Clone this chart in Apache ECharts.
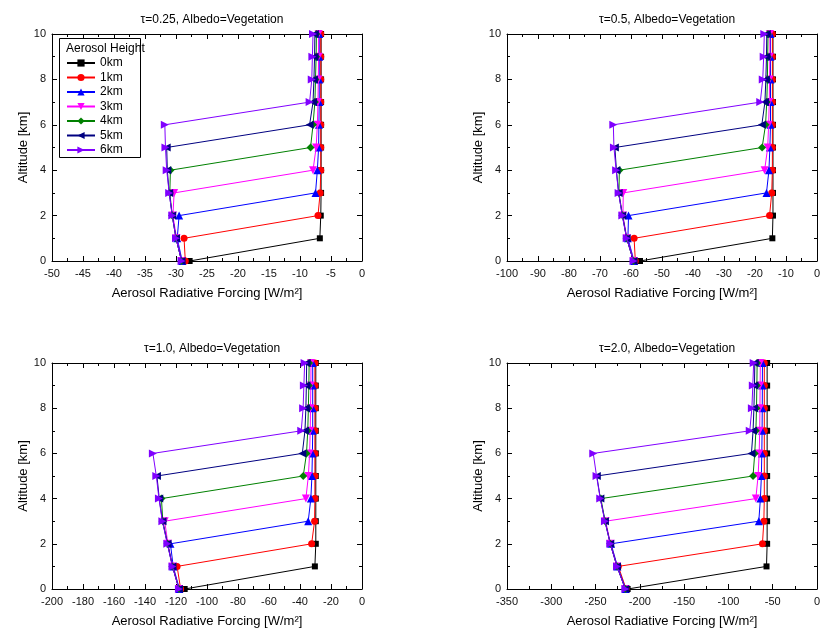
<!DOCTYPE html>
<html>
<head>
<meta charset="utf-8">
<script src="https://cdn.jsdelivr.net/npm/echarts@6/dist/echarts.min.js"></script>
<style>
html,body{margin:0;padding:0;background:#fff;}
#chart{width:827px;height:637px;}
</style>
</head>
<body>
<div id="chart"></div>
<script>
// ---------- data ----------
const altitudes = [0, 1, 2, 3, 4, 5, 6, 7, 8, 9, 10];
const heightNames = ['0km', '1km', '2km', '3km', '4km', '5km', '6km'];
const panelTitles = ['τ=0.25, Albedo=Vegetation', 'τ=0.5, Albedo=Vegetation', 'τ=1.0, Albedo=Vegetation', 'τ=2.0, Albedo=Vegetation'];
const xMins = [-50, -100, -200, -350];
const xIntervals = [5, 10, 20, 50];

// tau = 0.25 (forcing at altitudes 0..10 km)
const tau025_h0 = [-27.8, -6.8, -6.65, -6.6, -6.6, -6.6, -6.6, -6.6, -6.6, -6.6, -6.6];
const tau025_h1 = [-28.5, -28.7, -7.1, -6.75, -6.65, -6.65, -6.65, -6.65, -6.65, -6.65, -6.65];
const tau025_h2 = [-29.0, -29.8, -29.5, -7.5, -7.2, -7.0, -6.95, -6.9, -6.9, -6.9, -6.9];
const tau025_h3 = [-29.1, -29.9, -30.5, -30.3, -7.9, -7.4, -7.2, -7.1, -7.05, -7.0, -7.0];
const tau025_h4 = [-29.1, -30.0, -30.6, -31.0, -30.9, -8.3, -7.9, -7.6, -7.5, -7.4, -7.35];
const tau025_h5 = [-29.1, -30.0, -30.6, -31.1, -31.4, -31.5, -8.45, -7.9, -7.75, -7.65, -7.6];
const tau025_h6 = [-29.1, -30.0, -30.6, -31.1, -31.5, -31.7, -31.8, -8.45, -8.1, -8.0, -7.9];

// tau = 0.5
const tau05_h0 = [-57.1, -14.4, -14.2, -14.2, -14.2, -14.2, -14.2, -14.2, -14.2, -14.2, -14.2];
const tau05_h1 = [-58.6, -59.0, -15.3, -14.6, -14.4, -14.4, -14.4, -14.4, -14.4, -14.4, -14.4];
const tau05_h2 = [-59.0, -61.0, -60.8, -16.3, -15.5, -15.2, -15.0, -15.0, -15.0, -15.0, -15.0];
const tau05_h3 = [-59.1, -61.3, -62.6, -62.5, -16.9, -15.9, -15.6, -15.4, -15.3, -15.2, -15.2];
const tau05_h4 = [-59.2, -61.4, -62.7, -63.9, -63.75, -17.7, -16.6, -16.2, -16.0, -15.9, -15.8];
const tau05_h5 = [-59.2, -61.4, -62.8, -64.0, -64.7, -65.2, -17.8, -16.8, -16.5, -16.3, -16.2];
const tau05_h6 = [-59.2, -61.4, -62.8, -64.0, -64.8, -65.5, -65.7, -18.3, -17.5, -17.2, -17.0];

// tau = 1.0
const tau10_h0 = [-114.4, -30.4, -29.8, -29.8, -29.8, -29.8, -29.8, -29.8, -29.8, -29.8, -29.8];
const tau10_h1 = [-117.0, -119.3, -32.5, -30.6, -30.4, -30.4, -30.4, -30.4, -30.4, -30.4, -30.4];
const tau10_h2 = [-117.8, -121.8, -123.6, -34.7, -33.0, -32.3, -32.0, -31.8, -31.8, -31.8, -31.8];
const tau10_h3 = [-118.0, -122.1, -125.2, -127.3, -36.2, -34.6, -33.8, -33.4, -33.2, -33.0, -32.9];
const tau10_h4 = [-118.0, -122.2, -125.4, -128.5, -129.4, -37.9, -35.8, -35.0, -34.6, -34.3, -34.1];
const tau10_h5 = [-118.1, -122.3, -125.5, -128.7, -130.8, -132.3, -38.5, -36.8, -36.2, -35.9, -35.7];
const tau10_h6 = [-118.1, -122.3, -125.6, -128.8, -131.0, -132.7, -134.9, -39.2, -38.0, -37.5, -37.0];

// tau = 2.0
const tau20_h0 = [-213.8, -57.0, -56.3, -56.3, -56.3, -56.3, -56.3, -56.3, -56.3, -56.3, -56.3];
const tau20_h1 = [-215.5, -224.3, -61.6, -60.0, -59.5, -59.5, -59.5, -59.5, -59.5, -59.5, -59.5];
const tau20_h2 = [-216.0, -225.3, -232.5, -65.7, -63.9, -62.8, -62.3, -62.0, -61.8, -61.7, -61.6];
const tau20_h3 = [-216.2, -225.6, -233.1, -238.6, -69.1, -66.5, -65.3, -64.7, -64.4, -64.2, -64.0];
const tau20_h4 = [-216.3, -225.7, -233.3, -239.2, -244.0, -72.2, -70.3, -69.0, -68.3, -67.9, -67.6];
const tau20_h5 = [-216.4, -225.8, -233.4, -239.4, -244.6, -248.6, -74.0, -72.2, -71.2, -70.6, -70.2];
const tau20_h6 = [-216.4, -225.8, -233.4, -239.4, -244.7, -248.9, -252.6, -75.9, -73.5, -72.5, -71.5];

const panelData = [
  [tau025_h0, tau025_h1, tau025_h2, tau025_h3, tau025_h4, tau025_h5, tau025_h6],
  [tau05_h0, tau05_h1, tau05_h2, tau05_h3, tau05_h4, tau05_h5, tau05_h6],
  [tau10_h0, tau10_h1, tau10_h2, tau10_h3, tau10_h4, tau10_h5, tau10_h6],
  [tau20_h0, tau20_h1, tau20_h2, tau20_h3, tau20_h4, tau20_h5, tau20_h6]
];

// ---------- styles ----------
const colors = ['#000000', '#ff0000', '#0000ff', '#ff00ff', '#008000', '#000080', '#8000ff'];
const symbols = [
  'rect', 'circle', 'triangle',
  'path://M0,0L10,0L5,10Z',
  'diamond',
  'path://M0,5L10,0L10,10Z',
  'path://M0,0L10,5L0,10Z'
];
const symbolSizes = [6, 7, 8, 8, 8, 8, 8];

const grids = [
  {left: 52, top: 34, width: 310, height: 227},
  {left: 507, top: 34, width: 310, height: 227},
  {left: 52, top: 363, width: 310, height: 226},
  {left: 507, top: 363, width: 310, height: 226}
];

const FONT = 'Liberation Sans, Arial, sans-serif';
const xAxes = [], yAxes = [], series = [], titles = [];

grids.forEach((g, p) => {
  const common = {
    gridIndex: p,
    type: 'value',
    axisLine: {show: true, onZero: false, lineStyle: {color: '#000', width: 1}},
    axisTick: {show: true, inside: true, length: 5, lineStyle: {color: '#000'}},
    minorTick: {show: true, splitNumber: 2, length: 3, lineStyle: {color: '#000'}},
    splitLine: {show: false}
  };
  xAxes.push(Object.assign({}, common, {
    position: 'bottom', min: xMins[p], max: 0, interval: xIntervals[p],
    name: 'Aerosol Radiative Forcing [W/m²]', nameLocation: 'middle', nameGap: 26,
    nameTextStyle: {fontFamily: FONT, fontSize: 13, color: '#000'},
    axisLabel: {fontFamily: FONT, fontSize: 11, color: '#111', margin: 7}
  }));
  xAxes.push(Object.assign({}, common, {
    position: 'top', min: xMins[p], max: 0, interval: xIntervals[p],
    axisLabel: {show: false}
  }));
  yAxes.push(Object.assign({}, common, {
    position: 'left', min: 0, max: 10, interval: 2,
    name: 'Altitude [km]', nameLocation: 'middle', nameGap: 22,
    nameTextStyle: {fontFamily: FONT, fontSize: 13, color: '#000'},
    axisLabel: {fontFamily: FONT, fontSize: 11, color: '#111', margin: 6}
  }));
  yAxes.push(Object.assign({}, common, {
    position: 'right', min: 0, max: 10, interval: 2,
    axisLabel: {show: false}
  }));
  titles.push({
    text: panelTitles[p],
    left: g.left + g.width / 2,
    top: g.top - 25,
    textAlign: 'center',
    textStyle: {fontFamily: FONT, fontSize: 12, fontWeight: 'normal', color: '#000'}
  });
  panelData[p].forEach((vals, h) => {
    series.push({
      name: heightNames[h],
      type: 'line',
      xAxisIndex: 2 * p,
      yAxisIndex: 2 * p,
      data: altitudes.map((a, i) => [vals[i], a]),
      symbol: symbols[h],
      symbolSize: symbolSizes[h],
      showSymbol: true,
      color: colors[h],
      lineStyle: {color: colors[h], width: 1},
      itemStyle: {color: colors[h]},
      emphasis: {disabled: true},
      z: 2 + h
    });
  });
});

const chart = echarts.init(document.getElementById('chart'), null, {renderer: 'canvas'});
chart.setOption({
  backgroundColor: '#fff',
  animation: false,
  title: titles,
  grid: grids,
  xAxis: xAxes,
  yAxis: yAxes,
  legend: {
    data: heightNames,
    orient: 'vertical',
    left: 66,
    top: 57,
    padding: 0,
    itemGap: 2.5,
    itemWidth: 28,
    itemHeight: 9,
    selectedMode: false,
    textStyle: {fontFamily: FONT, fontSize: 12, color: '#000'}
  },
  graphic: [
    {type: 'rect', shape: {x: 59.5, y: 38.5, width: 81, height: 119}, style: {fill: 'none', stroke: '#000', lineWidth: 1}, z: 10},
    {type: 'text', x: 66, y: 43, style: {text: 'Aerosol Height', font: '12px ' + FONT, fill: '#000'}, z: 10}
  ],
  series: series
});
</script>
</body>
</html>
